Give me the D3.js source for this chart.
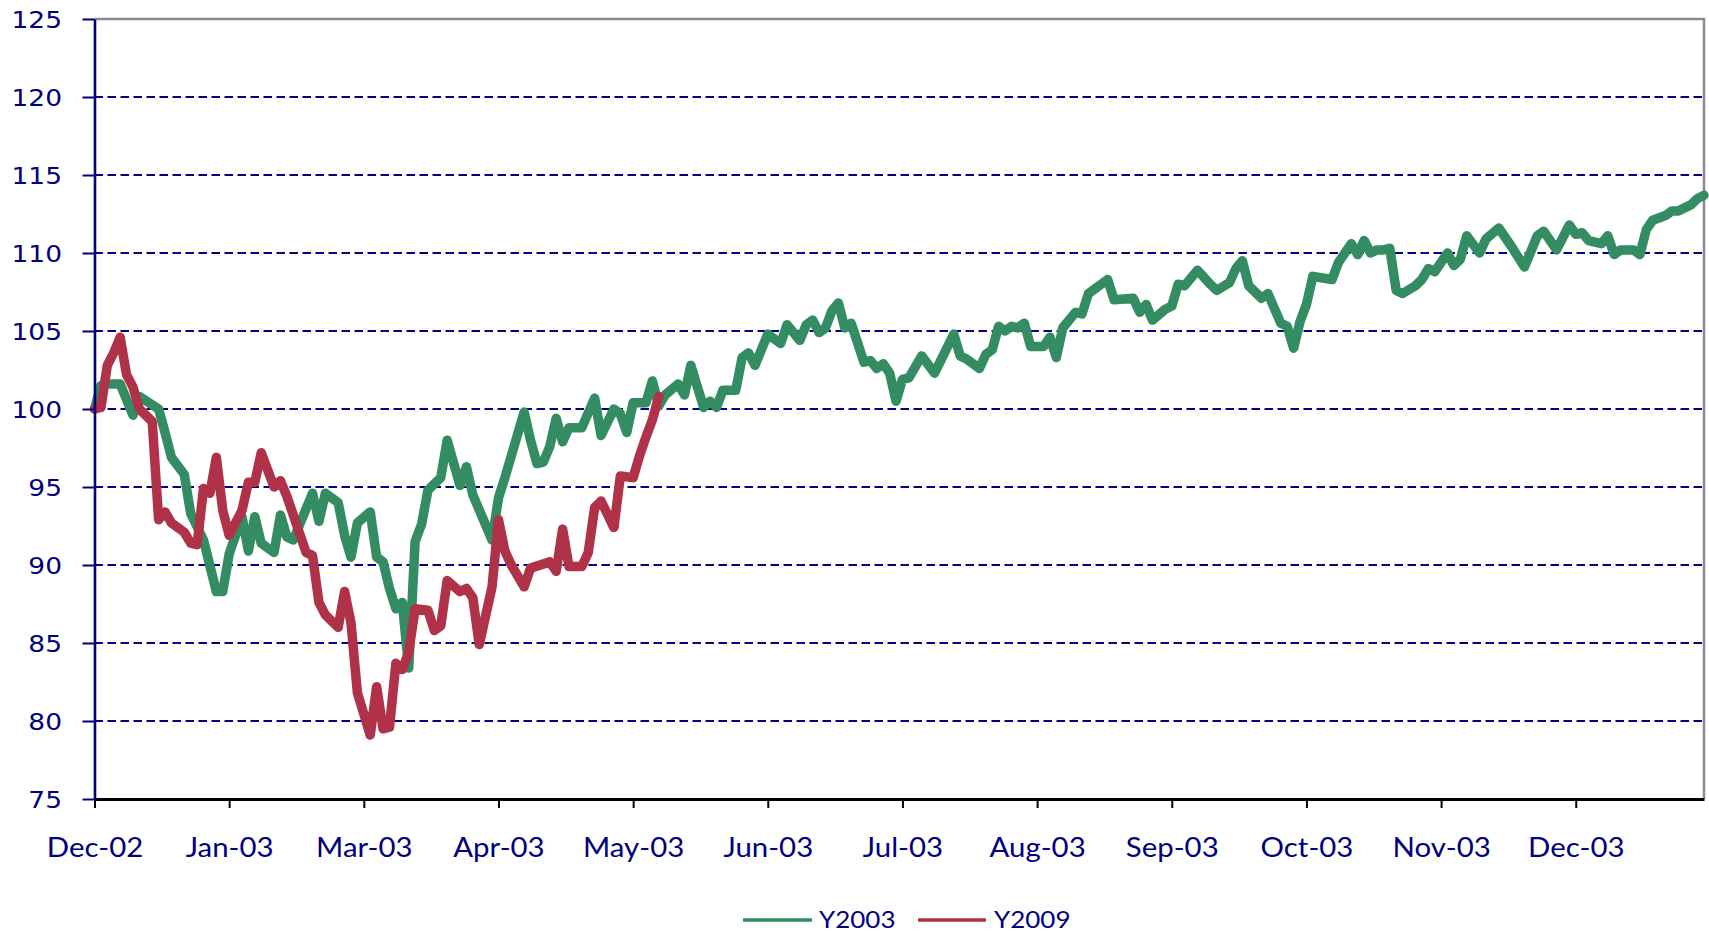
<!DOCTYPE html>
<html><head><meta charset="utf-8">
<script src="https://cdn.jsdelivr.net/npm/d3@7"></script>
<style>
html,body{margin:0;padding:0;background:#fff;}
svg{display:block;}
</style></head><body>
<svg id="chart" width="1709" height="935"></svg>
<script>
// ---- data ----
const tickLabels = ["Dec-02","Jan-03","Mar-03","Apr-03","May-03","Jun-03","Jul-03","Aug-03","Sep-03","Oct-03","Nov-03","Dec-03"];
const tradingDays = 252;          // number of daily points on the category axis
const labelEvery = 21;            // a label every 21 trading days
const yTicks = [75,80,85,90,95,100,105,110,115,120,125];
const seriesNames = ["Y2003","Y2009"];

// Y2003 (vertices: trading-day index, index level)
const y2003Days = [0,1,2,4,6,7,10,11,12,14,15,17,19,20,21,23,24,25,26,28,29,30,31,34,35,36,38,39,40,41,43,44,45,46,47,48,49,50,51,52,54,55,57,58,59,62,63,64,67,68,69,70,71,72,73,74,76,78,79,81,82,83,84,86,87,88,89,91,92,93,95,96,97,98,100,101,102,103,105,106,107,108,110,111,112,113,114,115,116,117,118,120,121,122,123,124,125,126,127,129,131,134,135,136,138,139,140,141,142,143,144,145,146,148,149,150,151,153,154,155,158,159,162,163,164,165,167,168,169,170,172,174,175,177,178,179,180,182,183,185,186,187,188,189,190,193,194,196,197,198,199,200,201,202,203,204,206,207,208,209,211,212,213,214,216,217,219,221,223,225,226,228,230,231,232,233,235,236,237,238,240,241,242,243,245,246,247,249,250,251];
const y2003Values = [100,101.5,101.6,101.6,99.6,100.8,100.0,98.5,96.9,95.8,93.3,91.6,88.3,88.3,90.7,93.1,90.9,93.1,91.4,90.8,93.2,91.8,91.6,94.6,92.8,94.6,94.0,91.9,90.5,92.7,93.4,90.5,90.2,88.5,87.2,87.6,83.4,91.5,92.6,94.8,95.6,98.0,95.1,96.3,94.5,91.6,94.3,95.6,99.8,98.0,96.5,96.6,97.6,99.4,97.9,98.8,98.8,100.7,98.3,100.0,99.7,98.5,100.4,100.4,101.8,100.2,100.9,101.6,100.9,102.8,100.1,100.5,100.1,101.2,101.2,103.3,103.6,102.8,104.8,104.5,104.2,105.4,104.4,105.4,105.7,104.9,105.2,106.3,106.8,105.2,105.5,103.0,103.1,102.6,102.9,102.3,100.5,101.9,102.0,103.4,102.3,104.8,103.4,103.2,102.6,103.5,103.8,105.3,105.0,105.3,105.2,105.5,104.0,104.0,104.6,103.3,105.2,106.2,106.1,107.4,108.3,107.0,107.1,106.2,106.7,105.7,106.4,106.6,108.0,107.9,108.9,108.0,107.6,108.1,109.0,109.5,107.9,107.1,107.4,105.5,105.3,103.9,105.6,106.7,108.5,108.3,109.4,110.6,109.9,110.8,110.0,110.2,110.2,110.3,107.6,107.4,107.9,108.3,109.0,108.8,110.0,109.2,109.6,111.1,110.0,110.9,111.6,110.4,109.1,111.1,111.4,110.2,111.8,111.2,111.3,110.8,110.6,111.1,109.9,110.2,110.2,109.9,111.5,112.1,112.4,112.7,112.7,113.1,113.5,113.7];

// Y2009 (vertices: trading-day index, index level)
const y2009Days = [0,1,2,3,4,5,6,7,9,10,11,12,14,15,16,17,18,19,20,21,23,24,25,26,28,29,30,33,34,35,36,38,39,40,41,43,44,45,46,47,48,49,50,52,53,54,55,57,58,59,60,62,63,64,65,67,68,71,72,73,74,76,77,78,79,81,82,84,85,86,87,88];
const y2009Values = [100,100.1,102.8,103.6,104.6,102.2,101.4,100.0,99.2,92.9,93.4,92.7,92.1,91.4,91.3,94.9,94.6,96.9,93.5,91.9,93.5,95.3,95.3,97.2,95.0,95.4,94.4,90.8,90.6,87.6,86.8,86.0,88.3,86.3,81.8,79.1,82.2,79.5,79.6,83.7,83.3,84.4,87.2,87.1,85.8,86.1,89.0,88.3,88.5,87.9,84.9,88.6,92.9,90.9,90.0,88.6,89.8,90.2,89.6,92.3,89.9,89.9,90.8,93.7,94.1,92.4,95.7,95.6,97.0,98.2,99.3,100.8];

// ---- style ----
const colors = {Y2003:"#338C62", Y2009:"#B03248"};
const navy = "#000080";
const W = 1709, H = 935;
const margin = {left:94.5, right:5, top:19, bottom:136};
const plotW = W - margin.left - margin.right;
const plotH = H - margin.top - margin.bottom;

const svg = d3.select("#chart");
const g = svg.append("g").attr("transform", `translate(${margin.left},${margin.top})`);

const x = d3.scaleLinear().domain([0, tradingDays - 1]).range([0, plotW]);
const y = d3.scaleLinear().domain([75, 125]).range([plotH, 0]);

// gridlines
g.append("g").selectAll("line")
  .data(yTicks.filter(v => v > 75 && v < 125))
  .join("line")
  .attr("x1", 0).attr("x2", plotW)
  .attr("y1", d => y(d)).attr("y2", d => y(d))
  .attr("stroke", navy).attr("stroke-width", 2.2)
  .attr("stroke-dasharray", "8.5,4.5");

// plot border top & right (gray)
g.append("path")
  .attr("d", `M0,${y(125)}H${plotW}V${plotH}`)
  .attr("fill", "none").attr("stroke", "#8a8a96").attr("stroke-width", 2.5);

// series
const series = [
  {name:"Y2003", days:y2003Days, values:y2003Values},
  {name:"Y2009", days:y2009Days, values:y2009Values}
];
const line = d3.line().x(d => x(d[0])).y(d => y(d[1]));
g.append("g").selectAll("path")
  .data(series)
  .join("path")
  .attr("d", s => line(s.days.map((d, i) => [d, s.values[i]])))
  .attr("fill", "none")
  .attr("stroke", s => colors[s.name])
  .attr("stroke-width", 9.5)
  .attr("stroke-linejoin", "round")
  .attr("stroke-linecap", "round");

// y axis
const yAxis = g.append("g")
  .call(d3.axisLeft(y).tickValues(yTicks).tickSize(12).tickSizeOuter(0));
yAxis.select(".domain").attr("stroke", navy).attr("stroke-width", 2.6);
yAxis.selectAll(".tick line").attr("stroke", navy).attr("stroke-width", 2);
yAxis.selectAll(".tick text")
  .attr("x", 0).attr("dy", "0.36em")
  .attr("transform", "translate(-32.5,0) scale(1.15,1)")
  .attr("fill", navy)
  .style("font-family", "'DejaVu Sans', Verdana, sans-serif")
  .style("font-size", "23px");

// x axis
const xAxis = g.append("g")
  .attr("transform", `translate(0,${plotH})`)
  .call(d3.axisBottom(x)
    .tickValues(d3.range(0, tradingDays, labelEvery))
    .tickFormat((d, i) => tickLabels[i])
    .tickSize(9).tickSizeOuter(0));
xAxis.select(".domain").attr("stroke", "#000").attr("stroke-width", 3.2);
xAxis.selectAll(".tick line").attr("stroke", "#000").attr("stroke-width", 2);
xAxis.selectAll(".tick text")
  .attr("y", 0).attr("dy", 0)
  .attr("transform", "translate(0,58) scale(1.13,1)")
  .attr("fill", navy)
  .style("font-family", "Lato, 'Open Sans', sans-serif")
  .style("font-size", "26px");

// legend
const legendItems = [
  {name:"Y2003", x1:743, x2:812, tx:819},
  {name:"Y2009", x1:918, x2:986, tx:994}
];
const lg = svg.append("g");
lg.selectAll("line").data(legendItems).join("line")
  .attr("x1", d => d.x1).attr("x2", d => d.x2)
  .attr("y1", 920).attr("y2", 920)
  .attr("stroke", d => colors[d.name]).attr("stroke-width", 3.5);
lg.selectAll("text").data(legendItems).join("text")
  .attr("transform", d => `translate(${d.tx},928) scale(1.13,1)`)
  .attr("fill", navy)
  .style("font-family", "Lato, 'Open Sans', sans-serif")
  .style("font-size", "23px")
  .text(d => d.name);
</script>
</body></html>
